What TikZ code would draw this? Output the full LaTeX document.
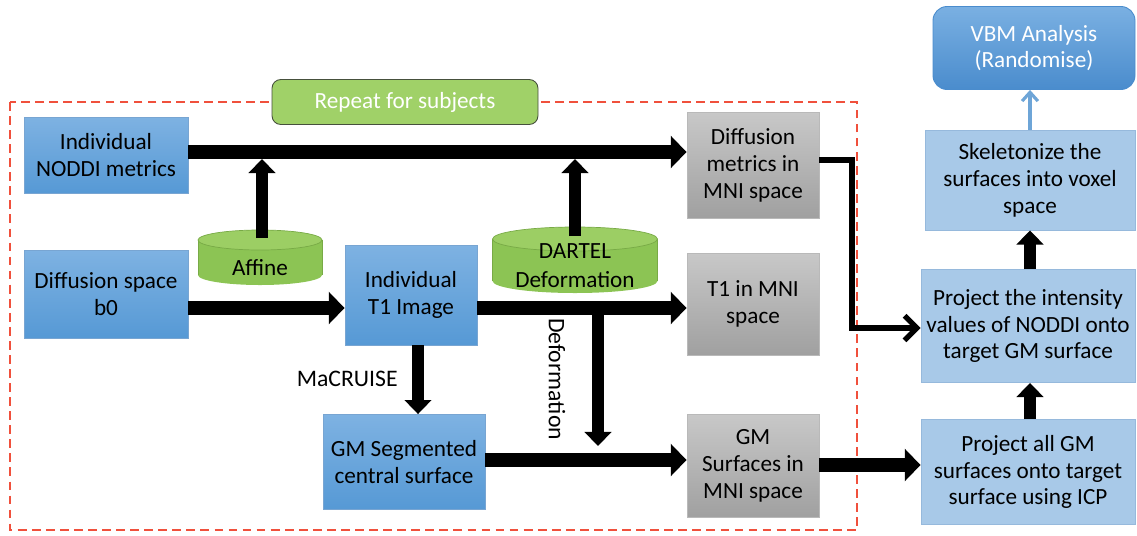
\documentclass[tikz,border=0pt]{standalone}
\usepackage{fontspec}
\setmainfont{Carlito}
\usetikzlibrary{arrows.meta,calc}
\definecolor{blueT}{RGB}{126,178,226}
\definecolor{blueB}{RGB}{86,153,213}
\definecolor{blueE}{RGB}{120,165,210}
\definecolor{grayT}{RGB}{200,200,200}
\definecolor{grayB}{RGB}{160,160,160}
\definecolor{grayE}{RGB}{185,185,185}
\definecolor{lightB}{RGB}{168,201,232}
\definecolor{lightE}{RGB}{150,185,220}
\definecolor{vbmT}{RGB}{122,176,226}
\definecolor{vbmB}{RGB}{74,140,205}
\definecolor{greenBody}{RGB}{140,196,84}
\definecolor{greenTop}{RGB}{156,206,100}
\definecolor{greenE}{RGB}{120,170,70}
\definecolor{repG}{RGB}{160,209,104}
\definecolor{repE}{RGB}{70,80,60}
\definecolor{redD}{RGB}{240,80,60}
\definecolor{thinBlue}{RGB}{110,165,215}
\begin{document}
\begin{tikzpicture}[x=0.02cm,y=-0.02cm,
  font=\fontsize{13.2}{15.3}\selectfont,
  wh/.style 2 args={minimum width=#1*0.02cm, minimum height=#2*0.02cm},
  base/.style={rectangle, align=center, inner sep=1pt, line width=0.5pt},
  bluebox/.style={base, draw=blueE, top color=blueT, bottom color=blueB},
  graybox/.style={base, draw=grayE, top color=grayT, bottom color=grayB},
  lightbox/.style={base, draw=lightE, fill=lightB},
  thick arrow/.style={line width=8.5pt, -{Triangle[length=9pt,width=18pt]}},
  mid arrow/.style={line width=6.8pt, -{Triangle[length=8pt,width=15pt]}},
  thin conn/.style={line width=3pt, -{Straight Barb[length=7pt,width=14pt]}},
  blue conn/.style={draw=thinBlue, line width=1.8pt, -{Straight Barb[length=5pt,width=9pt]}},
  cyltext/.style={align=center, inner sep=0pt},
  sidelabel/.style={font=\fontsize{13.5}{15}\selectfont, inner sep=0pt}
]
\useasboundingbox (0,0) rectangle (1137,535);

% dashed frame
\draw[redD, line width=1pt, dash pattern=on 5pt off 3pt] (10,102) rectangle (857,530);

% repeat label
\node[base, draw=repE, fill=repG, rounded corners=5pt, wh={266}{45}, text=white] (repeat) at (405,102) {Repeat for subjects};

% boxes left
\node[bluebox, wh={164}{76}] (noddi) at (106,155) {Individual\\NODDI metrics};
\node[bluebox, wh={164}{88}] (b0) at (106,294) {Diffusion space\\b0};
\node[bluebox, wh={132}{100}] (t1) at (411,295) {Individual\\T1 Image};
\node[bluebox, wh={162}{95}] (gmseg) at (404,462) {GM Segmented\\central surface};

% gray boxes
\node[graybox, wh={132}{106}] (dmni) at (753,165) {Diffusion\\metrics in\\MNI space};
\node[graybox, wh={132}{102}] (t1mni) at (753,304) {T1 in MNI\\space};
\node[graybox, wh={132}{103}] (gmmni) at (753,466) {GM\\Surfaces in\\MNI space};

% right column
\node[base, draw=vbmB, top color=vbmT, bottom color=vbmB, rounded corners=8pt, wh={202}{83}, text=white] (vbm) at (1034,48) {VBM Analysis\\(Randomise)};
\node[lightbox, wh={210}{100}] (skel) at (1030,180) {Skeletonize the\\surfaces into voxel\\space};
\node[lightbox, wh={214}{113}] (projint) at (1028,326) {Project the intensity\\values of NODDI onto\\target GM surface};
\node[lightbox, wh={214}{105}] (projall) at (1028,472) {Project all GM\\surfaces onto target\\surface using ICP};

% cylinders
\fill[greenBody] (260,275) ellipse (62 and 10);
\fill[greenBody] (198,240) rectangle (322,275);
\draw[greenE, line width=0.4pt] (198,240) -- (198,275) (322,240) -- (322,275);
\draw[greenE, line width=0.4pt, fill=greenTop] (260,240) ellipse (62 and 10);
\node[cyltext] (affine) at (260,268) {Affine};

\fill[greenBody] (575,281) ellipse (82.5 and 12);
\fill[greenBody] (492.5,239) rectangle (657.5,281);
\draw[greenE, line width=0.4pt] (492.5,239) -- (492.5,281) (657.5,239) -- (657.5,281);
\draw[greenE, line width=0.4pt, fill=greenTop] (575,239) ellipse (82.5 and 12);
\node[cyltext, font=\fontsize{13.2}{16.5}\selectfont] (dartel) at (575,266) {DARTEL\\Deformation};

% coordinates
\coordinate (affTop) at (262,238);
\coordinate (affEnd) at (262,159);
\coordinate (darTop) at (575,236);
\coordinate (darEnd) at (575,159);
\coordinate (defStart) at (598,314);
\coordinate (defEnd) at (598,446);
\coordinate (bendA) at (852,160);
\coordinate (bendB) at (852,328);

% connectors
\draw[thick arrow] (noddi.east |- 0,152) -- (dmni.west |- 0,152);
\draw[mid arrow] (affTop) -- (affEnd);
\draw[mid arrow] (darTop) -- (darEnd);
\draw[thick arrow] (b0.east |- 0,308) -- (t1.west |- 0,308);
\draw[thick arrow] (t1.east |- 0,308) -- (t1mni.west |- 0,308);
\draw[mid arrow] (t1.south -| 418,0) -- (gmseg.north -| 418,0);
\node[sidelabel, anchor=east] (macruise) at (398,379) {MaCRUISE};
\draw[mid arrow] (defStart) -- (defEnd);
\node[sidelabel, rotate=-90] (deflabel) at (557,379) {Deformation};
\draw[thick arrow] (gmseg.east |- 0,460) -- (gmmni.west |- 0,460);
\draw[thin conn] (dmni.east |- bendA) -- (bendA) -- (bendB) -- (projint.west |- bendB);
\draw[thick arrow] (gmmni.east |- 0,465) -- (projall.west |- 0,465);
\draw[mid arrow] (projall.north -| 1030,0) -- (projint.south -| 1030,0);
\draw[mid arrow] (projint.north -| 1030,0) -- (skel.south -| 1030,0);
\draw[blue conn] (skel.north -| 1030,0) -- (vbm.south -| 1030,0);
\end{tikzpicture}
\end{document}
